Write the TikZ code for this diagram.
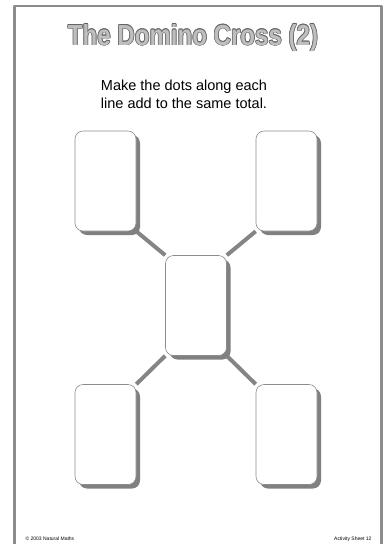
\documentclass[tikz,border=0pt]{standalone}
\usepackage{fontspec}
\setmainfont{Liberation Sans}
\usetikzlibrary{shadows,backgrounds}

\tikzset{
  domino/.style={draw=black!45, fill=white, rounded corners=8pt, line width=0.6pt,
    minimum width=61pt, minimum height=100pt, inner sep=0pt,
    drop shadow={shadow xshift=4pt, shadow yshift=-4pt, fill=black!50, opacity=1}},
  link/.style={line width=4pt, draw=black!48},
  heading/.style={xscale=0.83, anchor=base, font=\fontsize{29}{30}\selectfont\bfseries},
}
\newcommand{\titletext}{The Domino Cross (2)}

\begin{document}
\begin{tikzpicture}[x=1pt, y=-1pt, line cap=round, line join=round]
  \useasboundingbox (0,0) rectangle (386,544);

  % Page frame (open at the bottom)
  \draw[line width=2.8pt, black!45, line cap=butt] (14.5,544) -- (14.5,6) -- (381.5,6) -- (381.5,544);

  % Title: outline by stacked copies, light fill on top
  \foreach \dx/\dy in {-0.7/0,0.7/0,0/-0.7,0/0.7,-0.5/-0.5,0.5/0.5,-0.5/0.5,0.5/-0.5}
    \node[heading, text=black!60] at (193+\dx,45+\dy) {\titletext};
  \node[heading, text=black!25] (title) at (193,45) {\titletext};

  % Instruction
  \node[align=center, anchor=base, font=\fontsize{14.5}{18}\selectfont] (task) at (184,108)
    {Make the dots along each\\line add to the same total.};

  % Dominoes
  \node[domino] (tl) at (105.5,181) {};
  \node[domino] (tr) at (286.5,181) {};
  \node[domino] (mid) at (196,305.5) {};
  \node[domino] (bl) at (105.5,434.5) {};
  \node[domino] (br) at (286.5,434.5) {};

  % Lines of the cross, behind the dominoes
  \begin{scope}[on background layer]
    \draw[link] (tl.south east) -- (mid.north west);
    \draw[link] (tr.south west) -- (mid.north east);
    \draw[link] (bl.north east) -- (mid.south west);
    \draw[link] (br.north west) -- (mid.south east);
  \end{scope}

  % Footer
  \node[anchor=base west, font=\fontsize{5}{6}\selectfont] (copy) at (22,540) {\textcopyright\ 2003 Natural Maths};
  \node[anchor=base east, font=\fontsize{5}{6}\selectfont] (sheet) at (375,540) {Activity Sheet 12};
\end{tikzpicture}
\end{document}
